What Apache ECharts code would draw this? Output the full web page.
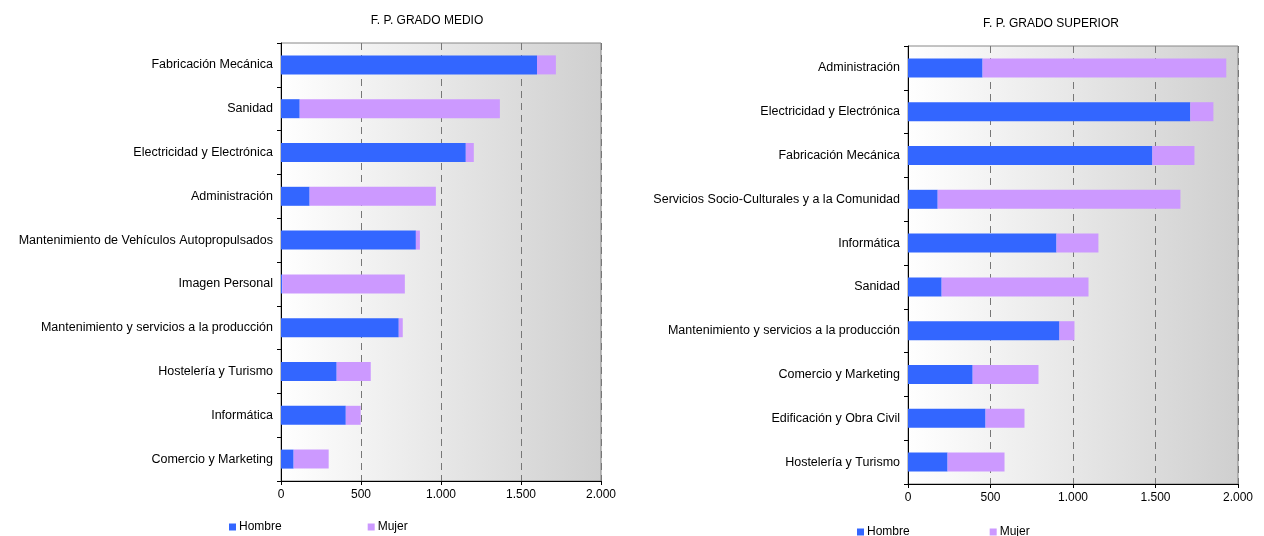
<!DOCTYPE html>
<html>
<head>
<meta charset="utf-8">
<script src="https://cdn.jsdelivr.net/npm/echarts@6/dist/echarts.min.js"></script>
<style>html,body{margin:0;padding:0;background:#fff}#c{width:1264px;height:536px}</style>
</head>
<body>
<div id="c"></div>
<script>
// Values; categories listed top to bottom.
var medioCats = ["Fabricación Mecánica", "Sanidad", "Electricidad y Electrónica", "Administración",
  "Mantenimiento de Vehículos Autopropulsados", "Imagen Personal",
  "Mantenimiento y servicios a la producción", "Hostelería y Turismo", "Informática", "Comercio y Marketing"];
var medioHombre = [1600, 117, 1155, 179, 843, 8, 736, 348, 405, 79];
var medioMujer = [118, 1251, 50, 789, 25, 766, 25, 213, 93, 219];

var superiorCats = ["Administración", "Electricidad y Electrónica", "Fabricación Mecánica",
  "Servicios Socio-Culturales y a la Comunidad", "Informática", "Sanidad",
  "Mantenimiento y servicios a la producción", "Comercio y Marketing", "Edificación y Obra Civil", "Hostelería y Turismo"];
var superiorHombre = [452, 1711, 1481, 180, 900, 204, 918, 392, 470, 240];
var superiorMujer = [1477, 140, 255, 1471, 254, 890, 91, 399, 236, 345];

var xTicks = [0, 500, 1000, 1500, 2000];

var font = "Liberation Sans, Arial, sans-serif";
var bg = new echarts.graphic.LinearGradient(0, 0, 1, 0, [
  { offset: 0, color: "#ffffff" }, { offset: 1, color: "#cfcfcf" }]);

function fmt(v) { return String(v).replace(/\B(?=(\d{3})+(?!\d))/g, "."); }

function grid(l, t, r, b) {
  return { left: l, top: t, width: r - l, height: b - t, show: true, backgroundColor: bg,
    borderColor: "#888", borderWidth: 1, containLabel: false };
}
function xAxis(i) {
  return { type: "value", gridIndex: i, min: 0, max: 2000, interval: 500,
    axisLine: { show: true, lineStyle: { color: "#000" } },
    axisTick: { show: true, length: 4, lineStyle: { color: "#000" } },
    axisLabel: { color: "#000", fontFamily: font, fontSize: 12, formatter: fmt, margin: 8 },
    splitLine: { show: true, lineStyle: { color: "#777", type: [7, 5] } } };
}
function yAxis(i, cats) {
  return { type: "category", gridIndex: i, data: cats, inverse: true,
    axisLine: { show: true, lineStyle: { color: "#000" } },
    axisTick: { show: true, length: 4, lineStyle: { color: "#000" } },
    axisLabel: { color: "#000", fontFamily: font, fontSize: 12.5, margin: 8 } };
}
function bar(name, i, stack, data, color) {
  return { name: name, type: "bar", xAxisIndex: i, yAxisIndex: i, stack: stack,
    data: data, barWidth: 19, itemStyle: { color: color }, silent: true };
}

var chart = echarts.init(document.getElementById("c"));
chart.setOption({
  animation: false,
  textStyle: { fontFamily: font },
  title: [
    { text: "F. P. GRADO MEDIO", left: 422, top: 10, textAlign: "center",
      textStyle: { fontSize: 12, fontWeight: "normal", color: "#000", fontFamily: font } },
    { text: "F. P. GRADO SUPERIOR", left: 1046, top: 13, textAlign: "center",
      textStyle: { fontSize: 12, fontWeight: "normal", color: "#000", fontFamily: font } }
  ],
  legend: [
    { data: ["Hombre", "Mujer"], left: 224, top: 516, itemWidth: 7, itemHeight: 7, itemGap: 86,
      icon: "rect", textStyle: { fontSize: 12, color: "#000", fontFamily: font, padding: [0, 0, 0, -2] } },
    { data: ["Hombre", "Mujer"], left: 852, top: 521, itemWidth: 7, itemHeight: 7, itemGap: 80,
      icon: "rect", textStyle: { fontSize: 12, color: "#000", fontFamily: font, padding: [0, 0, 0, -2] } }
  ],
  grid: [grid(281, 43, 601, 481), grid(908, 46, 1238, 484)],
  xAxis: [xAxis(0), xAxis(1)],
  yAxis: [yAxis(0, medioCats), yAxis(1, superiorCats)],
  series: [
    bar("Hombre", 0, "m", medioHombre, "#3366ff"),
    bar("Mujer", 0, "m", medioMujer, "#cc99ff"),
    bar("Hombre", 1, "s", superiorHombre, "#3366ff"),
    bar("Mujer", 1, "s", superiorMujer, "#cc99ff")
  ]
});
</script>
</body>
</html>
